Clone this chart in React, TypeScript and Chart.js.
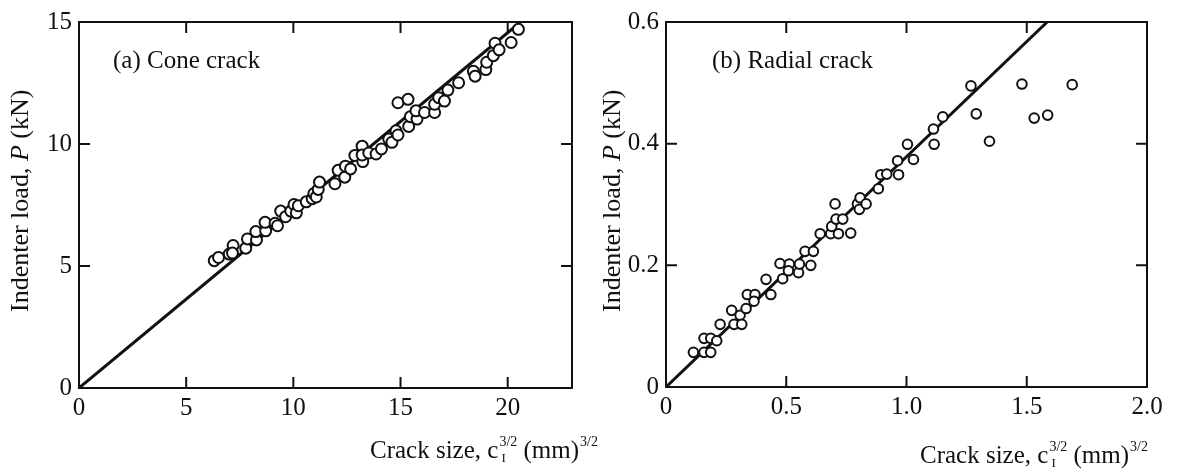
import React, { useEffect, useRef } from "react";
import { Chart, registerables } from "chart.js";
Chart.register(...registerables);

// ---------- Panel (a): cone crack ----------
const CONE_X = [6.31, 6.51, 7.01, 7.19, 7.16, 7.78, 7.86, 8.28, 8.25, 8.71, 8.68, 9.15, 9.26, 9.41, 9.64, 9.88, 10.03, 10.14, 10.23, 10.6, 10.88, 10.96, 11.07, 11.16, 11.22, 11.94, 12.09, 12.4, 12.43, 12.67, 12.87, 13.21, 13.24, 13.21, 13.52, 13.86, 14.11, 14.45, 14.6, 14.79, 14.88, 14.88, 15.35, 15.38, 15.46, 15.77, 15.72, 16.12, 16.59, 16.59, 16.78, 17.05, 17.21, 17.71, 18.4, 18.48, 18.98, 19.02, 19.33, 19.41, 19.6, 20.16, 20.5];
const CONE_Y = [5.22, 5.35, 5.49, 5.84, 5.53, 5.73, 6.11, 6.07, 6.41, 6.44, 6.79, 6.75, 6.65, 7.25, 7.02, 7.25, 7.52, 7.18, 7.47, 7.63, 7.76, 7.97, 7.83, 8.14, 8.44, 8.37, 8.92, 8.64, 9.09, 8.98, 9.53, 9.91, 9.28, 9.55, 9.63, 9.59, 9.8, 10.2, 10.07, 10.54, 10.37, 11.69, 11.83, 10.72, 11.12, 11.02, 11.36, 11.29, 11.29, 11.63, 11.9, 11.76, 12.21, 12.51, 12.98, 12.78, 13.05, 13.35, 13.62, 14.13, 13.86, 14.16, 14.7];
const CONE_FIT_X = [0, 20.6];
const CONE_FIT_Y = [0, 15];
const CONE_X_TICKS = [0, 5, 10, 15, 20];
const CONE_X_LABELS = ["0", "5", "10", "15", "20"];
const CONE_Y_TICKS = [0, 5, 10, 15];
const CONE_Y_LABELS = ["0", "5", "10", "15"];
const CONE_X_RANGE = [0, 23];
const CONE_Y_RANGE = [0, 15];

// ---------- Panel (b): radial crack ----------
const RADIAL_X = [0.114, 0.158, 0.158, 0.186, 0.186, 0.211, 0.225, 0.273, 0.283, 0.308, 0.315, 0.333, 0.338, 0.37, 0.366, 0.416, 0.436, 0.474, 0.485, 0.513, 0.509, 0.551, 0.555, 0.578, 0.613, 0.602, 0.641, 0.685, 0.689, 0.703, 0.707, 0.717, 0.735, 0.768, 0.796, 0.807, 0.804, 0.832, 0.883, 0.893, 0.918, 0.963, 0.967, 1.004, 1.029, 1.112, 1.115, 1.151, 1.268, 1.29, 1.345, 1.48, 1.531, 1.587, 1.689];
const RADIAL_Y = [0.057, 0.08, 0.057, 0.08, 0.057, 0.076, 0.103, 0.126, 0.103, 0.118, 0.103, 0.129, 0.152, 0.152, 0.141, 0.177, 0.152, 0.203, 0.178, 0.202, 0.191, 0.188, 0.202, 0.223, 0.223, 0.2, 0.252, 0.252, 0.264, 0.301, 0.276, 0.252, 0.276, 0.253, 0.301, 0.311, 0.292, 0.301, 0.326, 0.349, 0.35, 0.372, 0.349, 0.399, 0.374, 0.424, 0.399, 0.444, 0.495, 0.449, 0.404, 0.498, 0.442, 0.447, 0.497];
const RADIAL_FIT_X = [0, 1.585];
const RADIAL_FIT_Y = [0, 0.6];
const RADIAL_X_TICKS = [0, 0.5, 1.0, 1.5, 2.0];
const RADIAL_X_LABELS = ["0", "0.5", "1.0", "1.5", "2.0"];
const RADIAL_Y_TICKS = [0, 0.2, 0.4, 0.6];
const RADIAL_Y_LABELS = ["0", "0.2", "0.4", "0.6"];
const RADIAL_X_RANGE = [0, 2];
const RADIAL_Y_RANGE = [0, 0.6];

const Y_TITLE = ["Indenter load, ", "P", " (kN)"];
const X_TITLE = ["Crack size, c", "I", "3/2", " (mm)", "3/2"];

const FONT = "'Liberation Serif', 'Times New Roman', serif";
const INK = "#111";
const TEXT_SIZE = 25;

type PanelCfg = {
  xs: number[]; ys: number[]; fitX: number[]; fitY: number[];
  xTicks: number[]; xLabels: string[]; yTicks: number[]; yLabels: string[];
  xRange: number[]; yRange: number[];
  label: string;
  width: number; yAxisW: number; xAxisH: number; padTop: number; padRight: number;
  pointR: number;
  yTitlePos: [number, number]; xTitlePos: [number, number]; labelPos: [number, number];
};

function makePlugin(cfg: PanelCfg) {
  return {
    id: "frameAndText",
    afterDatasetsDraw(chart: any) {
      const { ctx, chartArea: a, scales } = chart;
      ctx.save();
      ctx.strokeStyle = INK;
      ctx.lineWidth = 2;
      ctx.strokeRect(a.left, a.top, a.right - a.left, a.bottom - a.top);
      const L = 11;
      ctx.beginPath();
      const xIn = cfg.xTicks.filter((v) => v > cfg.xRange[0] && v < cfg.xRange[1]);
      const yIn = cfg.yTicks.filter((v) => v > cfg.yRange[0] && v < cfg.yRange[1]);
      for (const v of xIn) {
        const px = scales.x.getPixelForValue(v);
        ctx.moveTo(px, a.bottom); ctx.lineTo(px, a.bottom - L);
        ctx.moveTo(px, a.top); ctx.lineTo(px, a.top + L);
      }
      for (const v of yIn) {
        const py = scales.y.getPixelForValue(v);
        ctx.moveTo(a.left, py); ctx.lineTo(a.left + L, py);
        ctx.moveTo(a.right, py); ctx.lineTo(a.right - L, py);
      }
      ctx.stroke();
      ctx.restore();
    },
    afterDraw(chart: any) {
      const ctx = chart.ctx as CanvasRenderingContext2D;
      ctx.save();
      ctx.fillStyle = INK;
      ctx.textBaseline = "alphabetic";
      ctx.textAlign = "left";
      const big = `${TEXT_SIZE}px ${FONT}`;
      const small = `14px ${FONT}`;
      // panel label
      ctx.font = big;
      ctx.fillText(cfg.label, cfg.labelPos[0], cfg.labelPos[1]);
      // x title
      let [x, y] = cfg.xTitlePos;
      ctx.font = big;
      ctx.fillText(X_TITLE[0], x, y);
      x += ctx.measureText(X_TITLE[0]).width + 1;
      ctx.font = `13px ${FONT}`;
      ctx.fillText(X_TITLE[1], x + 2, y + 4);
      ctx.font = small;
      ctx.fillText(X_TITLE[2], x, y - 12);
      x += ctx.measureText(X_TITLE[2]).width;
      ctx.font = big;
      ctx.fillText(X_TITLE[3], x, y);
      x += ctx.measureText(X_TITLE[3]).width + 1;
      ctx.font = small;
      ctx.fillText(X_TITLE[4], x, y - 12);
      // y title (rotated)
      ctx.translate(cfg.yTitlePos[0], cfg.yTitlePos[1]);
      ctx.rotate(-Math.PI / 2);
      let t = 0;
      ctx.font = `${TEXT_SIZE + 1}px ${FONT}`;
      ctx.fillText(Y_TITLE[0], t, 0);
      t += ctx.measureText(Y_TITLE[0]).width;
      ctx.font = `italic ${TEXT_SIZE + 1}px ${FONT}`;
      ctx.fillText(Y_TITLE[1], t, 0);
      t += ctx.measureText(Y_TITLE[1]).width;
      ctx.font = `${TEXT_SIZE + 1}px ${FONT}`;
      ctx.fillText(Y_TITLE[2], t, 0);
      ctx.restore();
    },
  };
}

function Panel({ cfg, left }: { cfg: PanelCfg; left: number }) {
  const ref = useRef<HTMLCanvasElement | null>(null);
  useEffect(() => {
    if (!ref.current) return;
    const pts = cfg.xs.map((x, i) => ({ x, y: cfg.ys[i] }));
    const fit = cfg.fitX.map((x, i) => ({ x, y: cfg.fitY[i] }));
    const chart = new Chart(ref.current, {
      type: "scatter",
      data: {
        datasets: [
          {
            type: "scatter",
            data: pts,
            order: 0,
            pointRadius: cfg.pointR,
            pointBorderWidth: 2,
            pointBorderColor: INK,
            pointBackgroundColor: "#fff",
            pointStyle: "circle",
          } as any,
          {
            type: "line",
            data: fit,
            order: 1,
            showLine: true,
            borderColor: INK,
            borderWidth: 3,
            pointRadius: 0,
            fill: false,
            tension: 0,
          } as any,
        ],
      },
      options: {
        animation: false,
        responsive: false,
        events: [],
        layout: { padding: { top: cfg.padTop, right: cfg.padRight, left: 0, bottom: 0 } },
        plugins: { legend: { display: false }, tooltip: { enabled: false }, title: { display: false } },
        scales: {
          x: {
            type: "linear",
            min: cfg.xRange[0],
            max: cfg.xRange[1],
            grid: { display: false, drawTicks: false },
            border: { display: false },
            ticks: {
              padding: 5,
              color: INK,
              font: { family: FONT, size: TEXT_SIZE },
              maxRotation: 0,
              autoSkip: false,
              callback: (v: any) => {
                const i = cfg.xTicks.findIndex((t) => Math.abs(t - v) < 1e-9);
                return i >= 0 ? cfg.xLabels[i] : "";
              },
            },
            afterBuildTicks: (s: any) => { s.ticks = cfg.xTicks.map((v) => ({ value: v })); },
            afterFit: (s: any) => { s.height = cfg.xAxisH; },
          },
          y: {
            type: "linear",
            min: cfg.yRange[0],
            max: cfg.yRange[1],
            grid: { display: false, drawTicks: false },
            border: { display: false },
            ticks: {
              padding: 7,
              color: INK,
              font: { family: FONT, size: TEXT_SIZE },
              autoSkip: false,
              callback: (v: any) => {
                const i = cfg.yTicks.findIndex((t) => Math.abs(t - v) < 1e-9);
                return i >= 0 ? cfg.yLabels[i] : "";
              },
            },
            afterBuildTicks: (s: any) => { s.ticks = cfg.yTicks.map((v) => ({ value: v })); },
            afterFit: (s: any) => { s.width = cfg.yAxisW; },
          },
        },
      } as any,
      plugins: [makePlugin(cfg)],
    });
    return () => chart.destroy();
  }, [cfg]);
  return (
    <canvas
      ref={ref}
      width={cfg.width}
      height={470}
      style={{ position: "absolute", left, top: 0, width: cfg.width, height: 470 }}
    />
  );
}

const CFG_A: PanelCfg = {
  xs: CONE_X, ys: CONE_Y, fitX: CONE_FIT_X, fitY: CONE_FIT_Y,
  xTicks: CONE_X_TICKS, xLabels: CONE_X_LABELS, yTicks: CONE_Y_TICKS, yLabels: CONE_Y_LABELS,
  xRange: CONE_X_RANGE, yRange: CONE_Y_RANGE,
  label: "(a) Cone crack",
  width: 612, yAxisW: 79, xAxisH: 82, padTop: 18, padRight: 40,
  pointR: 5.5,
  yTitlePos: [28, 312], xTitlePos: [370, 458], labelPos: [113, 68],
};

const CFG_B: PanelCfg = {
  xs: RADIAL_X, ys: RADIAL_Y, fitX: RADIAL_FIT_X, fitY: RADIAL_FIT_Y,
  xTicks: RADIAL_X_TICKS, xLabels: RADIAL_X_LABELS, yTicks: RADIAL_Y_TICKS, yLabels: RADIAL_Y_LABELS,
  xRange: RADIAL_X_RANGE, yRange: RADIAL_Y_RANGE,
  label: "(b) Radial crack",
  width: 588, yAxisW: 76, xAxisH: 83, padTop: 15, padRight: 31,
  pointR: 4.8,
  yTitlePos: [30, 312], xTitlePos: [330, 463], labelPos: [122, 68],
};

export default function App() {
  return (
    <div style={{ position: "fixed", left: 0, top: 0, width: 1178, height: 470, background: "#fff", overflow: "hidden" }}>
      <Panel cfg={CFG_A} left={0} />
      <Panel cfg={CFG_B} left={590} />
    </div>
  );
}
